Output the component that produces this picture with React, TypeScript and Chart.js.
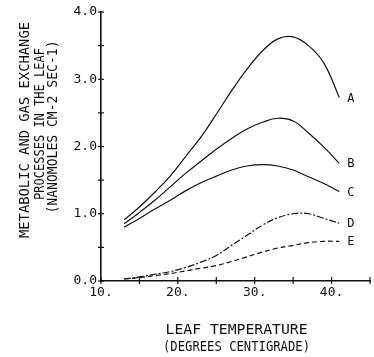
import { useEffect, useRef } from 'react';
import { Chart, registerables } from 'chart.js';

Chart.register(...registerables);

const temps = [13, 15, 17, 19, 21, 23, 25, 27, 29, 31, 33, 35, 37, 39, 41];
const seriesA = [0.91, 1.1, 1.32, 1.56, 1.85, 2.14, 2.48, 2.83, 3.15, 3.42, 3.6, 3.63, 3.5, 3.24, 2.73];
const seriesB = [0.85, 1.02, 1.2, 1.4, 1.6, 1.78, 1.96, 2.12, 2.26, 2.36, 2.42, 2.38, 2.2, 1.99, 1.75];
const seriesC = [0.8, 0.93, 1.07, 1.2, 1.34, 1.46, 1.56, 1.65, 1.71, 1.73, 1.71, 1.65, 1.55, 1.45, 1.33];
const seriesD = [0.03, 0.06, 0.1, 0.14, 0.2, 0.28, 0.38, 0.53, 0.68, 0.83, 0.94, 1.0, 1.0, 0.93, 0.86];
const seriesE = [0.03, 0.05, 0.08, 0.11, 0.15, 0.19, 0.23, 0.29, 0.36, 0.43, 0.49, 0.53, 0.57, 0.59, 0.59];
const curveLabels = ['A', 'B', 'C', 'D', 'E'];
const xTitle = ['LEAF TEMPERATURE', '(DEGREES CENTIGRADE)'];
const yTitle = ['METABOLIC AND GAS EXCHANGE', 'PROCESSES IN THE LEAF', '(NANOMOLES CM-2 SEC-1)'];

const FONT = '"DejaVu Sans Mono", monospace';

export default function App() {
  const ref = useRef<HTMLCanvasElement | null>(null);
  useEffect(() => {
    document.body.style.margin = '0';
    const canvas = ref.current!;
    const all = [seriesA, seriesB, seriesC, seriesD, seriesE];
    const dashes = [[], [], [], [7, 2, 2, 2], [5, 3]];
    const datasets = all.map((s, i) => ({
      label: curveLabels[i],
      data: s.map((v, j) => ({ x: temps[j], y: v })),
      borderColor: '#111',
      borderWidth: 1.2,
      borderDash: dashes[i],
      pointRadius: 0,
      tension: 0.4,
      fill: false,
    }));

    const drawScaled = (ctx: CanvasRenderingContext2D, text: string, cx: number, cy: number, w: number, rot: number) => {
      ctx.save();
      ctx.translate(cx, cy);
      ctx.rotate(rot);
      const m = ctx.measureText(text).width;
      ctx.scale(w / m, 1);
      ctx.fillText(text, 0, 0);
      ctx.restore();
    };

    const overlay = {
      id: 'overlay',
      afterDraw(chart: any) {
        const ctx = chart.ctx as CanvasRenderingContext2D;
        const xs = chart.scales.x;
        const ys = chart.scales.y;
        const ax = xs.left;
        const ay = ys.bottom;
        ctx.save();
        ctx.strokeStyle = '#111';
        ctx.lineWidth = 1.2;
        // y ticks
        ys.ticks.forEach((t: any) => {
          const py = ys.getPixelForValue(t.value);
          ctx.beginPath();
          ctx.moveTo(ax - 3, py);
          ctx.lineTo(ax + 3, py);
          ctx.stroke();
        });
        xs.ticks.forEach((t: any) => {
          const px = xs.getPixelForValue(t.value);
          ctx.beginPath();
          ctx.moveTo(px, ay - 4);
          ctx.lineTo(px, ay + 3);
          ctx.stroke();
        });
        // curve labels
        ctx.fillStyle = '#111';
        ctx.font = `12px ${FONT}`;
        ctx.textAlign = 'left';
        ctx.textBaseline = 'middle';
        all.forEach((s, i) => {
          const px = xs.getPixelForValue(temps[temps.length - 1]) + 8;
          const py = ys.getPixelForValue(s[s.length - 1]);
          ctx.fillText(curveLabels[i], px, py + 1);
        });
        // titles
        ctx.font = `14px ${FONT}`;
        ctx.textAlign = 'center';
        const xw = [142, 147];
        const xy = [330, 347];
        const xc = (xs.getPixelForValue(10) + xs.getPixelForValue(45)) / 2;
        xTitle.forEach((t, i) => drawScaled(ctx, t, xc + 1, xy[i], xw[i], 0));
        const yw = [216, 152, 173];
        const yx = [25.5, 40.5, 53.5];
        const yc = [130, 124, 127];
        yTitle.forEach((t, i) => drawScaled(ctx, t, yx[i], yc[i], yw[i], -Math.PI / 2));
        ctx.restore();
      },
    };

    const chart = new Chart(canvas, {
      type: 'line',
      data: { datasets: datasets as any },
      options: {
        animation: false,
        responsive: false,
        layout: { padding: { top: 12, right: 1, left: 0, bottom: 0 } },
        plugins: { legend: { display: false }, tooltip: { enabled: false } },
        scales: {
          x: {
            type: 'linear',
            min: 10,
            max: 45,
            afterFit: (s: any) => { s.height = 76; },
            grid: { display: false, drawTicks: false },
            border: { display: true, color: '#111', width: 1.6 },
            ticks: {
              stepSize: 5,
              autoSkip: false,
              maxRotation: 0,
              padding: 4,
              color: '#111',
              font: { family: FONT, size: 13 },
              callback: (v: any) => (Number(v) % 10 === 0 ? `${v}.` : ''),
            },
          },
          y: {
            type: 'linear',
            min: 0,
            max: 4,
            afterFit: (s: any) => { s.width = 101; },
            grid: { display: false, drawTicks: false },
            border: { display: true, color: '#111', width: 1.6 },
            ticks: {
              stepSize: 0.5,
              autoSkip: false,
              padding: 4,
              color: '#111',
              font: { family: FONT, size: 13 },
              callback: (v: any) => (Number(v) % 1 === 0 ? Number(v).toFixed(1) : ''),
            },
          },
        },
      },
      plugins: [overlay],
    });
    return () => chart.destroy();
  }, []);
  return (
    <div style={{ width: 374, height: 357 }}>
      <canvas ref={ref} width={374} height={357} style={{ display: 'block', width: 374, height: 357 }} />
    </div>
  );
}
